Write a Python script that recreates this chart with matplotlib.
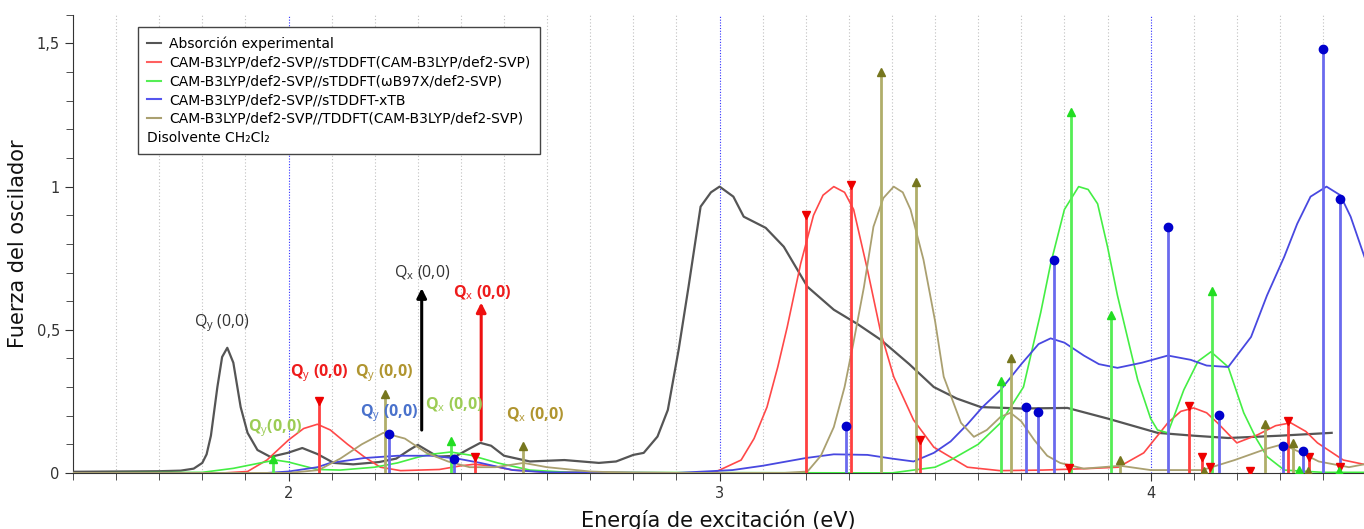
import numpy as np
import matplotlib
matplotlib.use('Agg')
import matplotlib.pyplot as plt
from matplotlib.lines import Line2D
from matplotlib.ticker import MultipleLocator, FuncFormatter

plt.rcParams['mathtext.fontset'] = 'custom'
plt.rcParams['mathtext.rm'] = 'Open Sans'
plt.rcParams['mathtext.bf'] = 'Open Sans:bold'
plt.rcParams['mathtext.it'] = 'Open Sans:italic'

# Experimental absorption (normalised)
exp_e = [1.50, 1.60, 1.70, 1.75, 1.78, 1.80, 1.81, 1.82, 1.835, 1.846, 1.858, 1.872, 1.889,
         1.905, 1.928, 1.958, 1.998, 2.032, 2.067, 2.105, 2.15, 2.21, 2.25, 2.28, 2.30,
         2.32, 2.346, 2.39, 2.42, 2.445, 2.47, 2.50, 2.56, 2.64, 2.72, 2.76, 2.80, 2.824,
         2.856, 2.88, 2.905, 2.928, 2.956, 2.98, 3.0, 3.032, 3.056, 3.107, 3.149, 3.204,
         3.265, 3.32, 3.374, 3.44, 3.497, 3.55, 3.606, 3.70, 3.807, 3.90, 4.016, 4.10,
         4.18, 4.30, 4.42]
exp_f = [0.004, 0.005, 0.006, 0.008, 0.015, 0.035, 0.065, 0.13, 0.30, 0.405, 0.437, 0.385, 0.23,
         0.14, 0.08, 0.056, 0.07, 0.087, 0.066, 0.035, 0.03, 0.038, 0.05, 0.08, 0.098,
         0.08, 0.057, 0.06, 0.085, 0.105, 0.095, 0.06, 0.04, 0.045, 0.035, 0.04, 0.063, 0.07,
         0.127, 0.22, 0.43, 0.65, 0.93, 0.98, 1.0, 0.965, 0.895, 0.856, 0.79, 0.65,
         0.57, 0.52, 0.465, 0.38, 0.30, 0.26, 0.23, 0.225, 0.227, 0.19, 0.14, 0.13,
         0.122, 0.13, 0.14]

# sTDDFT(CAM-B3LYP)
red_e = [1.50, 1.85, 1.905, 1.95, 2.00, 2.035, 2.067, 2.097, 2.137, 2.175, 2.213, 2.26,
         2.35, 2.40, 2.43, 2.47, 2.52, 2.60, 2.95, 2.99, 3.05, 3.08, 3.11, 3.135, 3.157,
         3.188, 3.218, 3.24, 3.265, 3.29, 3.311, 3.343, 3.374, 3.404, 3.45, 3.497, 3.575,
         3.65, 3.75, 3.85, 3.925, 3.984, 4.04, 4.07, 4.10, 4.13, 4.155, 4.20, 4.248, 4.29,
         4.325, 4.36, 4.387, 4.447, 4.495]
red_f = [0, 0, 0.005, 0.045, 0.115, 0.155, 0.17, 0.15, 0.10, 0.057, 0.02, 0.008,
         0.012, 0.025, 0.03, 0.025, 0.01, 0.003, 0, 0.003, 0.045, 0.12, 0.23, 0.37, 0.51,
         0.73, 0.90, 0.97, 1.0, 0.98, 0.92, 0.71, 0.49, 0.336, 0.185, 0.09, 0.02,
         0.008, 0.01, 0.015, 0.02, 0.07, 0.175, 0.215, 0.227, 0.21, 0.175, 0.105, 0.133, 0.165,
         0.175, 0.145, 0.105, 0.045, 0.03]

# sTDDFT(wB97X)
green_e = [1.50, 1.80, 1.872, 1.935, 1.97, 2.00, 2.028, 2.067, 2.12, 2.20, 2.253, 2.30,
           2.33, 2.376, 2.422, 2.485, 2.56, 2.65, 3.40, 3.50, 3.536, 3.60, 3.652, 3.705,
           3.745, 3.768, 3.80, 3.833, 3.855, 3.877, 3.90, 3.923, 3.95, 3.97, 4.00, 4.016,
           4.04, 4.077, 4.11, 4.14, 4.18, 4.216, 4.245, 4.27, 4.31, 4.40, 4.495]
green_f = [0, 0.002, 0.016, 0.035, 0.045, 0.038, 0.027, 0.012, 0.01, 0.02, 0.035, 0.055,
           0.065, 0.073, 0.062, 0.035, 0.01, 0.002, 0, 0.02, 0.045, 0.10, 0.175, 0.30,
           0.56, 0.73, 0.92, 1.0, 0.99, 0.94, 0.79, 0.62, 0.45, 0.325, 0.19, 0.15,
           0.14, 0.29, 0.39, 0.423, 0.37, 0.21, 0.12, 0.057, 0.01, 0.002, 0.002]

# sTDDFT-xTB
blue_e = [1.50, 1.95, 2.00, 2.067, 2.097, 2.144, 2.175, 2.253, 2.33, 2.392, 2.445, 2.52,
          2.60, 2.90, 3.03, 3.10, 3.20, 3.265, 3.343, 3.40, 3.45, 3.497, 3.536, 3.575,
          3.61, 3.652, 3.70, 3.74, 3.768, 3.80, 3.845, 3.88, 3.923, 3.98, 4.04, 4.093,
          4.13, 4.18, 4.233, 4.27, 4.31, 4.34, 4.371, 4.408, 4.44, 4.464, 4.496]
blue_f = [0, 0, 0.005, 0.02, 0.035, 0.045, 0.052, 0.06, 0.06, 0.05, 0.035, 0.01,
          0.002, 0, 0.01, 0.025, 0.052, 0.065, 0.063, 0.05, 0.04, 0.07, 0.11, 0.17,
          0.23, 0.29, 0.38, 0.45, 0.47, 0.455, 0.41, 0.38, 0.367, 0.385, 0.41, 0.395,
          0.375, 0.37, 0.475, 0.62, 0.755, 0.87, 0.965, 1.0, 0.97, 0.895, 0.755]

# TDDFT(CAM-B3LYP)
olive_e = [1.50, 2.00, 2.07, 2.12, 2.17, 2.22, 2.27, 2.32, 2.37, 2.42, 2.48, 2.545, 2.60,
           2.70, 2.80, 3.15, 3.204, 3.235, 3.265, 3.29, 3.31, 3.335, 3.357, 3.38, 3.404,
           3.425, 3.443, 3.473, 3.50, 3.52, 3.56, 3.59, 3.62, 3.652, 3.675, 3.70, 3.73,
           3.76, 3.79, 3.845, 3.93, 4.0, 4.12, 4.195, 4.27, 4.306, 4.35, 4.39, 4.46, 4.495]
olive_f = [0, 0, 0.01, 0.05, 0.10, 0.14, 0.12, 0.07, 0.04, 0.02, 0.02, 0.035, 0.02,
           0.005, 0, 0, 0.005, 0.06, 0.16, 0.30, 0.45, 0.65, 0.86, 0.96, 1.0,
           0.98, 0.92, 0.745, 0.53, 0.336, 0.175, 0.126, 0.15, 0.196, 0.21, 0.18, 0.115,
           0.06, 0.035, 0.015, 0.025, 0.01, 0.01, 0.045, 0.085, 0.1, 0.07, 0.04, 0.02, 0.03]

# oscillator strengths (sticks)
red_stk_e = [2.07, 2.432, 3.20, 3.306, 3.464, 3.81, 4.09, 4.12, 4.137, 4.23, 4.318, 4.367, 4.44]
red_stk_f = [0.25, 0.055, 0.90, 1.005, 0.115, 0.017, 0.233, 0.057, 0.02, 0.008, 0.18, 0.057, 0.022]
green_stk_e = [1.965, 2.378, 3.654, 3.816, 3.907, 4.142, 4.345, 4.436]
green_stk_f = [0.048, 0.11, 0.32, 1.26, 0.55, 0.635, 0.01, 0.005]
blue_stk_e = [2.232, 2.385, 3.294, 3.712, 3.738, 3.775, 4.04, 4.158, 4.306, 4.353, 4.40, 4.439]
blue_stk_f = [0.136, 0.05, 0.165, 0.23, 0.213, 0.745, 0.86, 0.203, 0.095, 0.077, 1.48, 0.958]
olive_stk_e = [2.223, 2.545, 3.374, 3.455, 3.675, 3.93, 4.123, 4.265, 4.33, 4.364]
olive_stk_f = [0.275, 0.094, 1.40, 1.015, 0.40, 0.045, 0.005, 0.17, 0.105, 0.005]

legend_labels = ['Absorción experimental',
                 'CAM-B3LYP/def2-SVP//sTDDFT(CAM-B3LYP/def2-SVP)',
                 'CAM-B3LYP/def2-SVP//sTDDFT(ωB97X/def2-SVP)',
                 'CAM-B3LYP/def2-SVP//sTDDFT-xTB',
                 'CAM-B3LYP/def2-SVP//TDDFT(CAM-B3LYP/def2-SVP)']
solvent_note = 'Disolvente CH₂Cl₂'

# band labels: text, x, y, colour, bold
qy = r'Q$_\mathrm{y}$ (0,0)'
qx = r'Q$_\mathrm{x}$ (0,0)'
band_labels = [
    (qy, 1.845, 0.524, '#333333', False),
    (qy, 2.07, 0.35, '#ee1c1c', True),
    (r'Q$_\mathrm{y}$(0,0)', 1.968, 0.157, '#9ccc55', True),
    (qy, 2.223, 0.35, '#b09530', True),
    (qy, 2.234, 0.21, '#4a72cc', True),
    (qx, 2.309, 0.70, '#333333', False),
    (qx, 2.45, 0.63, '#ee1c1c', True),
    (qx, 2.384, 0.238, '#9ccc55', True),
    (qx, 2.572, 0.203, '#b09530', True),
]
# arrows from experimental bands: x, y start, y end, colour
arrows = [(2.309, 0.14, 0.655, 'black'), (2.447, 0.105, 0.605, '#ee1010')]

fig = plt.figure(figsize=(13.64, 5.29), dpi=100)
ax = fig.add_axes([0.0535, 0.106, 0.9465, 0.866])

ax.plot(exp_e, exp_f, color='#555555', lw=1.6, zorder=3)
ax.plot(red_e, red_f, color='#ff4848', lw=1.2, zorder=3)
ax.plot(green_e, green_f, color='#44ee44', lw=1.2, zorder=3)
ax.plot(blue_e, blue_f, color='#4848e0', lw=1.3, zorder=3)
ax.plot(olive_e, olive_f, color='#aaa070', lw=1.3, zorder=3)

def sticks(e, f, lc, mc, m, ms):
    ax.vlines(e, 0, f, color=lc, lw=2, zorder=4)
    ax.plot(e, f, ls='none', marker=m, color=mc, ms=ms, zorder=5)

sticks(olive_stk_e, olive_stk_f, '#b0ae6a', '#76761e', '^', 6)
sticks(red_stk_e, red_stk_f, '#ff4040', '#ee0000', 'v', 6)
sticks(green_stk_e, green_stk_f, '#55ee55', '#22dd22', '^', 6)
sticks(blue_stk_e, blue_stk_f, '#6a6aee', '#0000cc', 'o', 6)

for x, y0, y1, c in arrows:
    ax.annotate('', xy=(x, y1), xytext=(x, y0),
                arrowprops=dict(arrowstyle='-|>', color=c, lw=2.2, mutation_scale=14),
                zorder=6)

for txt, x, y, c, bold in band_labels:
    ax.text(x, y, txt, color=c, fontsize=11.5, ha='center', va='center', family='Open Sans',
            fontweight='bold' if bold else 'normal', zorder=7)

ax.set_xlim(1.5, 4.495)
ax.set_ylim(0, 1.6)
ax.xaxis.set_major_locator(MultipleLocator(1))
ax.xaxis.set_minor_locator(MultipleLocator(0.1))
ax.yaxis.set_major_locator(MultipleLocator(0.5))
ax.yaxis.set_minor_locator(MultipleLocator(0.1))
ax.yaxis.set_major_formatter(FuncFormatter(lambda v, p: ('%g' % v).replace('.', ',')))
ax.grid(True, which='minor', axis='x', color='#c0c0c0', ls=(0, (1, 2)), lw=0.8)
ax.grid(True, which='major', axis='x', color='#3030ff', ls=(0, (1, 1.5)), lw=0.8)
ax.set_axisbelow(True)
for s in ['top', 'right']:
    ax.spines[s].set_visible(False)
for s in ['left', 'bottom']:
    ax.spines[s].set_color('#333333')
ax.tick_params(which='both', colors='#333333', labelsize=10.5, direction='out')
ax.tick_params(which='major', length=6)
ax.tick_params(which='minor', length=5)

ax.set_xlabel('Energía de excitación (eV)', fontsize=15, color='#111111', labelpad=6)
ax.set_ylabel('Fuerza del oscilador', fontsize=15, color='#111111', labelpad=6)

handles = [Line2D([], [], color=c, lw=1.5) for c in
           ['#555555', '#ff6060', '#55ee55', '#5555ee', '#aaa070']]
leg = ax.legend(handles, legend_labels, loc='upper left', bbox_to_anchor=(0.05, 0.974),
                borderaxespad=0, fontsize=10, title=solvent_note, title_fontsize=10,
                alignment='left', handlelength=1.0, handletextpad=0.6,
                labelspacing=0.34, borderpad=0.7, fancybox=False, framealpha=1,
                edgecolor='#444444')
leg.get_frame().set_linewidth(1.0)
# put the solvent note under the entries
leg._legend_box._children = leg._legend_box._children[::-1]
leg.set_zorder(10)

fig.savefig('out.png', dpi=100)
